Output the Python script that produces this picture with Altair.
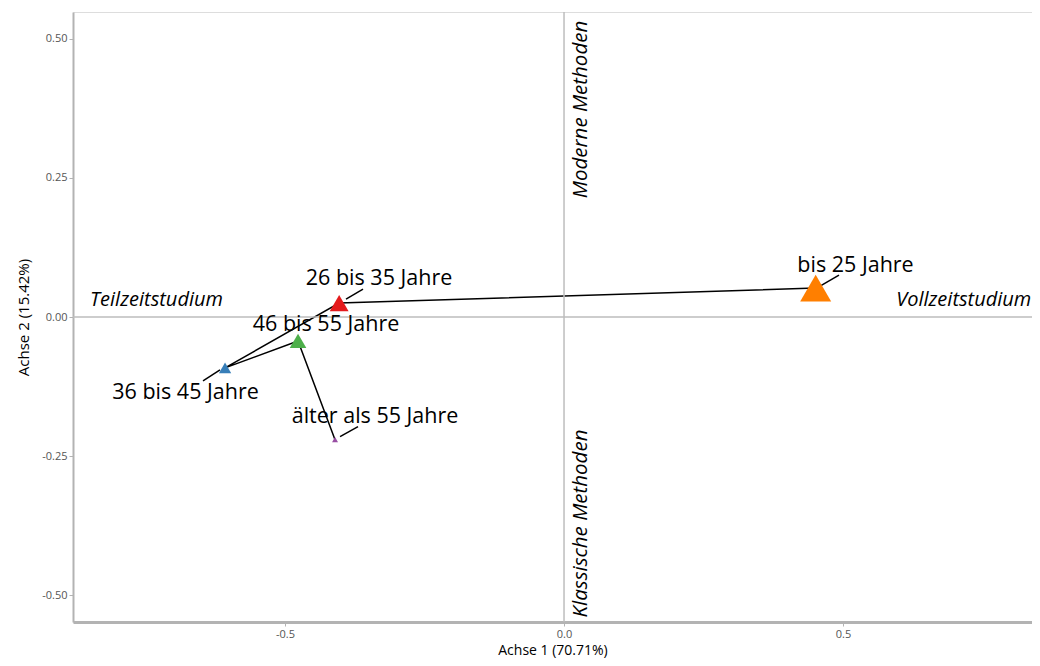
import altair as alt
import pandas as pd

# --- data ---
groups = ["bis 25 Jahre", "26 bis 35 Jahre", "36 bis 45 Jahre", "46 bis 55 Jahre", "älter als 55 Jahre"]
dim1 = [0.451, -0.403, -0.6075, -0.4767, -0.4104]
dim2 = [0.052, 0.025, -0.0914, -0.043, -0.2204]
weight = [0.54, 0.20, 0.085, 0.155, 0.02]
order = [1, 2, 3, 4, 5]
colors = ["#FF7F00", "#E41A1C", "#377EB8", "#4DAF4A", "#984EA3"]

label_x = [0.5224, -0.3315, -0.6783, -0.4265, -0.3387]
label_y = [0.0914, 0.0681, -0.1362, -0.0143, -0.1792]

# leader segments (from point to label)
lead_x1 = [0.4588, -0.3907, -0.6165, -0.4014]
lead_y1 = [0.0556, 0.0323, -0.0950, -0.2151]
lead_x2 = [0.4928, -0.3602, -0.6470, -0.3692]
lead_y2 = [0.0753, 0.0502, -0.1147, -0.1971]

ann_text = ["Teilzeitstudium", "Vollzeitstudium"]
ann_x = [-0.7303, 0.7163]
ann_y = [0.0305, 0.0305]
vann_text = ["Moderne Methoden", "Klassische Methoden"]
vann_x = [0.0305, 0.0305]
vann_y = [0.3728, -0.371]

x_dom = [-0.88, 0.8387]
y_dom = [-0.548, 0.548]

pts = pd.DataFrame({"group": groups, "d1": dim1, "d2": dim2, "w": weight, "o": order,
                    "lx": label_x, "ly": label_y})
leads = pd.DataFrame({"x1": lead_x1, "y1": lead_y1, "x2": lead_x2, "y2": lead_y2})
ann = pd.DataFrame({"t": ann_text, "x": ann_x, "y": ann_y})
vann = pd.DataFrame({"t": vann_text, "x": vann_x, "y": vann_y})
zero = pd.DataFrame({"v": [0.0]})

FONT = "Open Sans"
MINUS_FIX = "replace(datum.label, '\u2212', '-')"

X = alt.X("d1:Q", scale=alt.Scale(domain=x_dom, nice=False, zero=False),
          axis=alt.Axis(title="Achse 1 (70.71%)", values=[-0.5, 0, 0.5], format=".1f",
                        labelExpr=MINUS_FIX,
                        grid=False, domainColor="#b3b3b3", domainWidth=3,
                        tickColor="#b3b3b3", tickSize=4, labelColor="#555555",
                        labelFontSize=11, labelFont=FONT, titleFont=FONT,
                        titleFontSize=14, titleFontWeight="normal", titleColor="#000000",
                        titlePadding=4, labelPadding=2))
Y = alt.Y("d2:Q", scale=alt.Scale(domain=y_dom, nice=False, zero=False),
          axis=alt.Axis(title="Achse 2 (15.42%)", values=[-0.5, -0.25, 0, 0.25, 0.5], format=".2f",
                        labelExpr=MINUS_FIX,
                        grid=False, domainColor="#b3b3b3", domainWidth=2,
                        tickColor="#b3b3b3", tickSize=4, labelColor="#555555",
                        labelFontSize=11, labelFont=FONT, titleFont=FONT,
                        titleFontSize=15, titleFontWeight="normal", titleColor="#000000",
                        titlePadding=10))

xs = alt.Scale(domain=x_dom, nice=False, zero=False)
ys = alt.Scale(domain=y_dom, nice=False, zero=False)

vline = alt.Chart(zero).mark_rule(color="#bdbdbd", strokeWidth=1.5).encode(
    x=alt.X("v:Q", scale=xs))
hline = alt.Chart(zero).mark_rule(color="#bdbdbd", strokeWidth=1.5).encode(
    y=alt.Y("v:Q", scale=ys))

path = alt.Chart(pts).mark_line(color="#000000", strokeWidth=1.5).encode(
    x=X, y=Y, order="o:Q")

points = alt.Chart(pts).mark_point(shape="triangle-up", filled=True, opacity=1).encode(
    x=alt.X("d1:Q", scale=xs), y=alt.Y("d2:Q", scale=ys),
    color=alt.Color("group:N", scale=alt.Scale(domain=groups, range=colors), legend=None),
    size=alt.Size("w:Q", scale=alt.Scale(domain=[0, 0.54], range=[0, 961]), legend=None))

leaders = alt.Chart(leads).mark_rule(color="#000000", strokeWidth=1.5).encode(
    x=alt.X("x1:Q", scale=xs), y=alt.Y("y1:Q", scale=ys), x2="x2:Q", y2="y2:Q")

labels = alt.Chart(pts).mark_text(font=FONT, fontSize=21.5, color="#000000",
                                  align="center", baseline="middle").encode(
    x=alt.X("lx:Q", scale=xs), y=alt.Y("ly:Q", scale=ys), text="group:N")

anns = alt.Chart(ann).mark_text(font=FONT, fontSize=20, fontStyle="italic", color="#000000",
                                align="center", baseline="middle").encode(
    x=alt.X("x:Q", scale=xs), y=alt.Y("y:Q", scale=ys), text="t:N")

vanns = alt.Chart(vann).mark_text(font=FONT, fontSize=20.5, fontStyle="italic", color="#000000",
                                  align="center", baseline="middle", angle=270).encode(
    x=alt.X("x:Q", scale=xs), y=alt.Y("y:Q", scale=ys), text="t:N")

chart = alt.layer(path, vline, hline, leaders, points, labels, anns, vanns).properties(
    width=959, height=610,
    autosize=alt.AutoSizeParams(type="none"),
    padding={"left": 65, "top": 4, "right": 0, "bottom": 36},
).configure_view(stroke="#b3b3b3", strokeWidth=2).configure(background="#ffffff")

chart.save("out.html", embed_options={"renderer": "svg", "actions": False})
